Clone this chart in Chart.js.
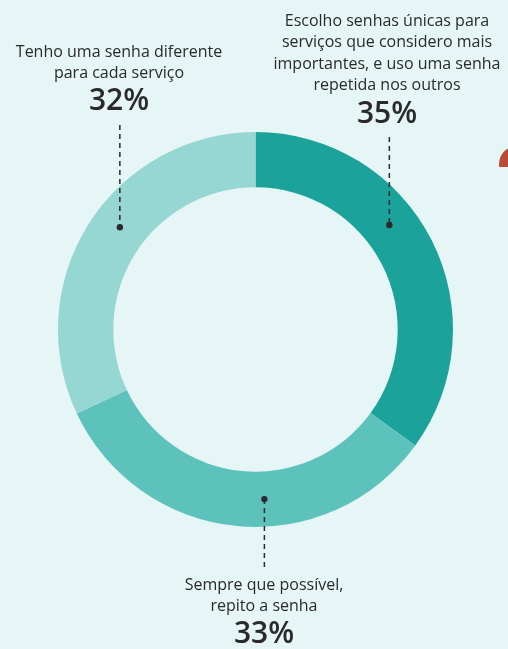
<!DOCTYPE html>
<html>
<head>
<meta charset="utf-8">
<script src="https://cdn.jsdelivr.net/npm/chart.js@4/dist/chart.umd.min.js"></script>
<style>
  html, body { margin: 0; padding: 0; background: #e6f5f6; }
  #wrap { width: 508px; height: 649px; position: relative; }
</style>
</head>
<body>
<div id="wrap"><canvas id="c" width="508" height="649"></canvas></div>
<script>
const categories = [
  "Escolho senhas únicas para serviços que considero mais importantes, e uso uma senha repetida nos outros",
  "Sempre que possível, repito a senha",
  "Tenho uma senha diferente para cada serviço"
];
const values = [35, 33, 32];
const labelLines = [
  ["Escolho senhas únicas para", "serviços que considero mais", "importantes, e uso uma senha", "repetida nos outros"],
  ["Sempre que possível,", "repito a senha"],
  ["Tenho uma senha diferente", "para cada serviço"]
];
const colors = ["#1ba39b", "#5ec2bc", "#96d6d3"];

// annotation layout (positions only)
const annot = [
  { dotAngle: 52, lineTop: 137, textX: 387, firstLineY: 21, pctY: 114, above: true },
  { dotAngle: 177, lineBottom: 568, textX: 264, firstLineY: 585, pctY: 634, above: false },
  { dotAngle: 307, lineTop: 125, textX: 119, firstLineY: 52, pctY: 101, above: true }
];

const TEXT = "#2a2a2a";
const FONT = "'Open Sans', 'Noto Sans', sans-serif";

const decor = {
  id: "decor",
  beforeDraw(chart) {
    const ctx = chart.ctx;
    ctx.save();
    ctx.fillStyle = "#e6f5f6";
    ctx.fillRect(0, 0, chart.width, chart.height);
    // cropped red shape at top right
    ctx.beginPath();
    ctx.rect(0, 0, chart.width, 167);
    ctx.clip();
    ctx.fillStyle = "#b94c36";
    ctx.beginPath();
    ctx.arc(517, 164, 18, 0, Math.PI * 2);
    ctx.fill();
    ctx.restore();
  },
  afterDraw(chart) {
    const ctx = chart.ctx;
    const meta = chart.getDatasetMeta(0);
    ctx.save();
    meta.data.forEach((arc, i) => {
      const a = annot[i];
      const p = arc.getProps(["x", "y", "innerRadius", "outerRadius"], true);
      const rMid = (p.innerRadius + p.outerRadius) / 2;
      const th = a.dotAngle * Math.PI / 180;
      const dx = p.x + rMid * Math.sin(th);
      const dy = p.y - rMid * Math.cos(th);
      // dashed leader
      ctx.strokeStyle = TEXT;
      ctx.lineWidth = 1.5;
      ctx.setLineDash([5, 4]);
      ctx.beginPath();
      if (a.above) { ctx.moveTo(dx, a.lineTop); ctx.lineTo(dx, dy); }
      else { ctx.moveTo(dx, dy); ctx.lineTo(dx, a.lineBottom); }
      ctx.stroke();
      ctx.setLineDash([]);
      ctx.fillStyle = TEXT;
      ctx.beginPath();
      ctx.arc(dx, dy, 3.2, 0, Math.PI * 2);
      ctx.fill();
      // text
      ctx.textAlign = "center";
      ctx.textBaseline = "middle";
      ctx.font = "16px " + FONT;
      labelLines[i].forEach((ln, k) => {
        ctx.fillText(ln, a.textX, a.firstLineY + k * 21.5);
      });
      ctx.font = "600 30px " + FONT;
      ctx.fillText(values[i] + "%", a.textX, a.pctY);
    });
    ctx.restore();
  }
};

new Chart(document.getElementById("c"), {
  type: "doughnut",
  data: {
    labels: categories,
    datasets: [{
      data: values,
      backgroundColor: colors,
      borderWidth: 0,
      hoverOffset: 0
    }]
  },
  options: {
    responsive: false,
    maintainAspectRatio: false,
    animation: false,
    cutout: "72%",
    layout: { padding: { left: 58, right: 55, top: 132, bottom: 122 } },
    plugins: { legend: { display: false }, tooltip: { enabled: false } }
  },
  plugins: [decor]
});
</script>
</body>
</html>
